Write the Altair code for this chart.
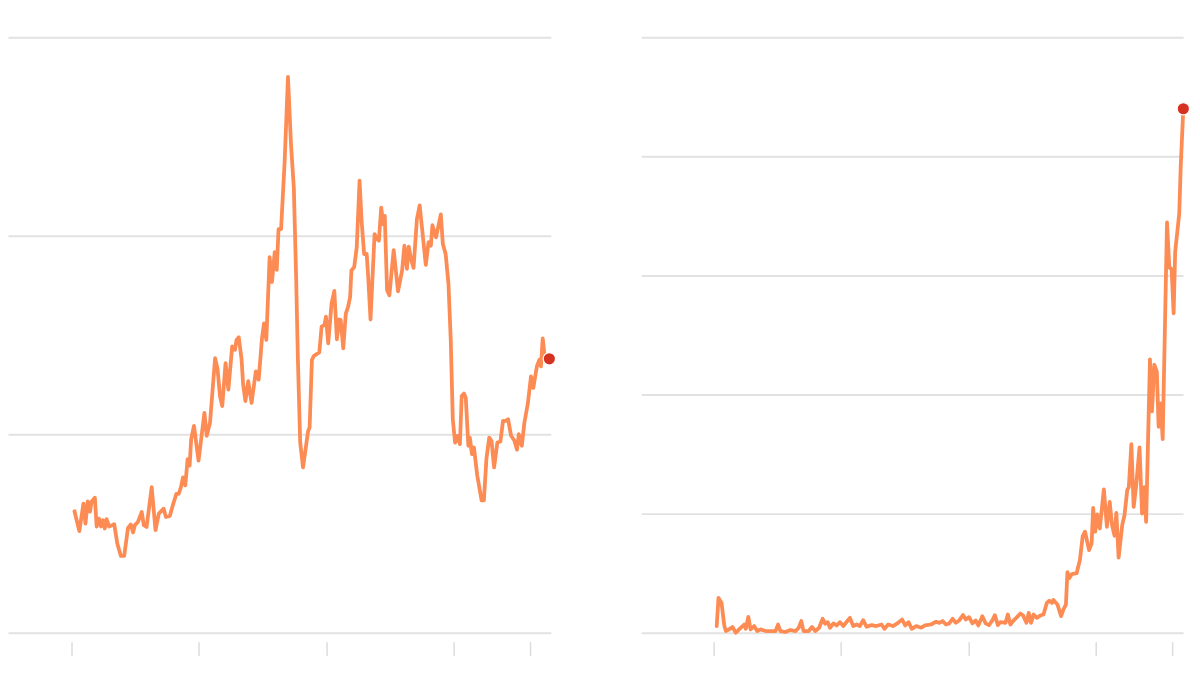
import altair as alt
import pandas as pd

# Left series (decimal year, value)
left_year = [2005.12, 2005.31, 2005.47, 2005.55, 2005.64, 2005.73, 2005.79, 2005.92, 2005.99, 2006.08,
             2006.16, 2006.24, 2006.31, 2006.38, 2006.48, 2006.60, 2006.68, 2006.80, 2006.94, 2007.07,
             2007.22, 2007.33, 2007.42, 2007.49, 2007.61, 2007.76, 2007.84, 2007.95, 2008.15, 2008.30,
             2008.43, 2008.62, 2008.71, 2008.86, 2009.01, 2009.12, 2009.21, 2009.30, 2009.38, 2009.47,
             2009.56, 2009.64, 2009.70, 2009.81, 2009.99, 2010.22, 2010.31, 2010.44, 2010.64, 2010.74,
             2010.83, 2010.92, 2011.05, 2011.16, 2011.31, 2011.42, 2011.48, 2011.57, 2011.68, 2011.74,
             2011.83, 2011.94, 2012.07, 2012.24, 2012.35, 2012.48, 2012.56, 2012.65, 2012.78, 2012.87,
             2012.98, 2013.06, 2013.13, 2013.23, 2013.37, 2013.50, 2013.62, 2013.73, 2013.82, 2013.89,
             2013.98, 2014.09, 2014.29, 2014.35, 2014.44, 2014.52, 2014.73, 2014.82, 2014.93, 2014.99,
             2015.08, 2015.21, 2015.32, 2015.42, 2015.51, 2015.57, 2015.67, 2015.77, 2015.86, 2015.94,
             2015.99, 2016.10, 2016.20, 2016.31, 2016.39, 2016.49, 2016.59, 2016.65, 2016.74, 2016.85,
             2016.90, 2017.00, 2017.07, 2017.16, 2017.24, 2017.30, 2017.39, 2017.48, 2017.65, 2017.82,
             2017.98, 2018.07, 2018.17, 2018.24, 2018.33, 2018.43, 2018.56, 2018.67, 2018.76, 2018.91,
             2019.02, 2019.11, 2019.17, 2019.31, 2019.50, 2019.58, 2019.69, 2019.80, 2019.89, 2019.97,
             2020.06, 2020.15, 2020.25, 2020.32, 2020.41, 2020.48, 2020.58, 2020.64, 2020.72, 2020.80,
             2020.93, 2021.10, 2021.19, 2021.29, 2021.40, 2021.49, 2021.59, 2021.72, 2021.84, 2021.94,
             2022.04, 2022.14, 2022.26, 2022.39, 2022.49, 2022.56, 2022.68, 2022.78, 2022.92, 2023.04,
             2023.13, 2023.27, 2023.37, 2023.43, 2023.50, 2023.59, 2023.76]
left_value = [61.2, 51.2, 65, 55, 66.2, 61, 66, 68, 53.5, 57.5,
              53.5, 56.7, 52.5, 57.2, 53.5, 54.2, 54.7, 45, 38.7, 38.7,
              52.8, 54.5, 50.5, 54.2, 55.8, 60.8, 54.2, 53.3, 73.3, 51.7,
              60, 62.5, 58.3, 58.8, 65.5, 70, 70, 73.3, 78.3, 74.2,
              87.5, 84.2, 97.5, 104.2, 86.7, 110.8, 99.2, 105.8, 138.3, 132.5,
              119.2, 114.2, 135.8, 122.5, 144.2, 142.5, 147.5, 148.8, 137.5, 125,
              116.7, 126.7, 115.8, 131.7, 127.5, 148.3, 155.8, 147.5, 189.2, 176.7,
              191.7, 182.8, 203.3, 203.3, 237.5, 280, 245.8, 224.2, 179.2, 137.5,
              95.8, 83.3, 101.5, 103.5, 137.5, 139.5, 141.2, 154.2, 155, 159.2,
              145.8, 165.8, 172.2, 147.8, 157.8, 157.5, 143.3, 160.8, 164.2, 169.2,
              182.5, 184.2, 194.2, 227.8, 207.5, 190.8, 190.8, 179.2, 157.8, 187.5,
              200.8, 198.3, 197.5, 214.2, 205.8, 210, 172.5, 170, 192.8, 172,
              182.5, 195, 183.3, 194.5, 188.3, 183.8, 208.3, 215.3, 204.2, 185.3,
              196.8, 195, 205.3, 199.2, 210.8, 195.8, 190.8, 175.8, 147.5, 107.5,
              95.8, 99.2, 95, 119.2, 120.5, 118.3, 94.2, 98.3, 90, 93.3,
              79.2, 66.7, 66.7, 87.5, 98.3, 96.7, 83.3, 95.8, 96.3, 106.7,
              106.7, 107.5, 99.2, 96.7, 92.2, 100, 94.2, 105.8, 115.8, 129.2,
              123.3, 134.2, 137.5, 134.2, 148.3, 137.5, 138]

# Right series (decimal year, value)
right_year = [2005.12, 2005.19, 2005.31, 2005.42, 2005.48, 2005.61, 2005.74, 2005.87, 2006.00, 2006.20,
              2006.26, 2006.36, 2006.45, 2006.59, 2006.71, 2006.84, 2007.04, 2007.30, 2007.43, 2007.53,
              2007.62, 2007.82, 2008.01, 2008.21, 2008.34, 2008.44, 2008.53, 2008.73, 2008.86, 2008.99,
              2009.14, 2009.28, 2009.38, 2009.48, 2009.57, 2009.70, 2009.83, 2009.96, 2010.09, 2010.25,
              2010.35, 2010.48, 2010.61, 2010.74, 2010.87, 2011.00, 2011.20, 2011.39, 2011.59, 2011.71,
              2011.85, 2012.04, 2012.24, 2012.40, 2012.52, 2012.65, 2012.78, 2012.95, 2013.15, 2013.30,
              2013.53, 2013.73, 2013.86, 2013.99, 2014.12, 2014.25, 2014.38, 2014.51, 2014.64, 2014.79,
              2014.90, 2015.03, 2015.16, 2015.29, 2015.39, 2015.55, 2015.68, 2015.81, 2015.94, 2016.04,
              2016.16, 2016.26, 2016.46, 2016.55, 2016.65, 2016.81, 2016.91, 2017.04, 2017.15, 2017.28,
              2017.37, 2017.46, 2017.56, 2017.69, 2017.82, 2017.95, 2018.08, 2018.18, 2018.28, 2018.34,
              2018.50, 2018.64, 2018.73, 2018.83, 2018.89, 2018.96, 2019.06, 2019.25, 2019.38, 2019.49,
              2019.58, 2019.74, 2019.84, 2019.90, 2019.98, 2020.06, 2020.16, 2020.32, 2020.44, 2020.55,
              2020.64, 2020.74, 2020.81, 2020.90, 2021.04, 2021.13, 2021.24, 2021.30, 2021.40, 2021.49,
              2021.59, 2021.72, 2021.82, 2021.91, 2021.98, 2022.13, 2022.21, 2022.30, 2022.40, 2022.47,
              2022.55, 2022.63, 2022.80, 2022.89, 2022.98, 2023.06, 2023.12, 2023.28, 2023.34, 2023.44]
right_value = [5.6, 29.2, 25, 5.6, 1.4, 2.8, 4.8, 0, 2.8, 6.9,
               3.3, 13.3, 2.8, 5.6, 1.4, 2.8, 1.4, 1.4, 1.4, 6.9,
               1.4, 0.6, 2.3, 1.4, 4.2, 9.8, 1.4, 1.4, 4.8, 1.4,
               4.2, 11.7, 7.5, 8.9, 4.2, 7.8, 6.1, 8.9, 5.6, 9.8,
               12.5, 5.6, 6.9, 5.6, 10.6, 5, 6.4, 5.6, 6.9, 3.3,
               6.9, 5.6, 8.3, 11.1, 6.1, 8.9, 3.3, 5.6, 4.2, 6.1,
               6.9, 9.2, 8.3, 9.8, 6.9, 7.8, 11.7, 8.3, 10.3, 14.8,
               11.1, 13.1, 7.8, 10.3, 6.1, 13.9, 7.8, 6.4, 10.3, 14.8,
               6.4, 8.9, 8.3, 15.3, 6.9, 11.1, 13.1, 16.1, 14.4, 8.3,
               16.7, 8.3, 15.3, 12.5, 14.4, 15.3, 25, 26.9, 25, 27.5,
               23.6, 13.9, 19.4, 23.6, 50.8, 45.8, 49.2, 50, 61.1, 81.1,
               84.8, 69.4, 75, 104.8, 84.8, 99.4, 87.5, 120.3, 88.9, 109.8,
               90.3, 81.4, 100.6, 63.1, 90.3, 98.6, 120, 122.3, 158.3, 105.6,
               123.6, 155.6, 100, 122.3, 93.1, 229.6, 185.8, 225, 219.2, 172.9,
               192.5, 162.5, 344.6, 306.7, 305.3, 268.2, 319.8, 352, 392.8, 440]

x_ticks = [2005, 2010, 2015, 2020, 2023]
left_y_ticks = [0, 100, 200, 300]
right_y_ticks = [0, 100, 200, 300, 400, 500]

LINE = "#fd8b54"
DOT = "#d63222"
GRID = "#e2e2e2"


def panel(years, values, xdom, ydom, yticks, width):
    df = pd.DataFrame({"year": years, "value": values})
    last = df.tail(1)
    x = alt.X("year:Q",
              scale=alt.Scale(domain=xdom, nice=False, zero=False),
              axis=alt.Axis(values=x_ticks, labels=False, grid=False, domain=False,
                            ticks=True, tickSize=14, tickColor="#dcdcdc", tickWidth=1.5,
                            offset=9, title=None, minExtent=0))
    y = alt.Y("value:Q",
              scale=alt.Scale(domain=ydom, nice=False, zero=True),
              axis=alt.Axis(values=yticks, labels=False, grid=True, gridColor=GRID,
                            gridWidth=2, domain=False, ticks=False, title=None,
                            minExtent=0, maxExtent=0))
    line = alt.Chart(df).mark_line(color=LINE, strokeWidth=3.8, strokeJoin="round",
                                   strokeCap="round").encode(x=x, y=y)
    dot = alt.Chart(last).mark_point(filled=True, color=DOT, size=155, opacity=1,
                                     stroke="white", strokeWidth=1.2).encode(
        x=alt.X("year:Q"), y=alt.Y("value:Q"))
    return alt.layer(line, dot).properties(width=width, height=600)


left = panel(left_year, left_value, [2002.51, 2023.82], [0, 300], left_y_ticks, 547)
right = panel(right_year, right_value, [2002.155, 2023.43], [0, 500], right_y_ticks, 546)

chart = alt.hconcat(left, right, spacing=83).properties(
    padding={"left": 0, "top": 27, "right": 0, "bottom": 0},
    background="white"
).configure_view(stroke="transparent", strokeWidth=0)

chart.save("out.html", embed_options={"renderer": "svg", "actions": False})
